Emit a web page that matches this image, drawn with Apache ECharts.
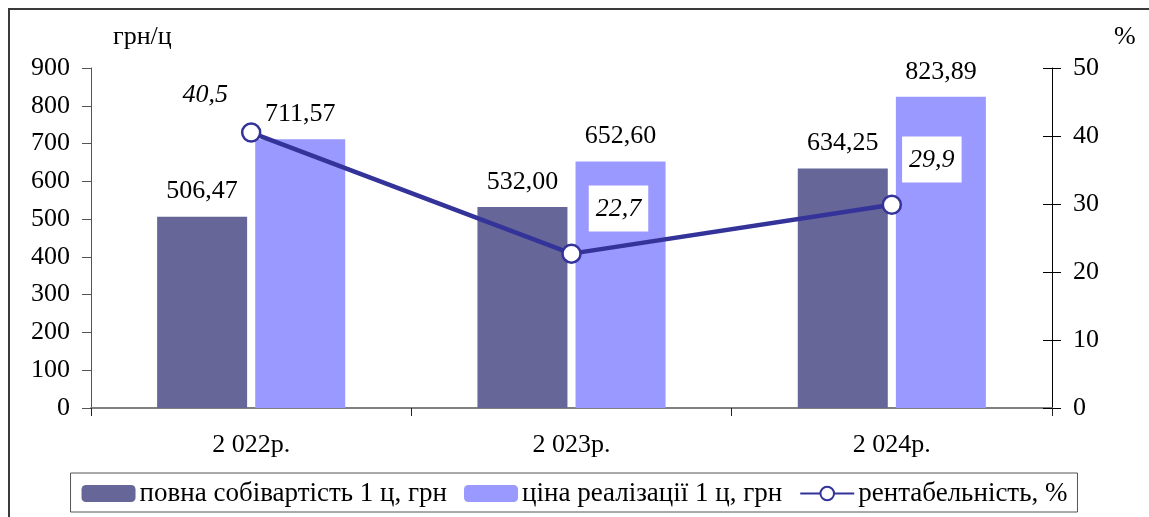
<!DOCTYPE html>
<html>
<head>
<meta charset="utf-8">
<script src="https://cdn.jsdelivr.net/npm/echarts@6/dist/echarts.min.js"></script>
<style>
html,body{margin:0;padding:0;background:#fff;}
#frame{position:absolute;left:8px;top:8px;width:1160px;height:530px;border:2px solid #3a3a3a;box-sizing:border-box;}
#c{position:absolute;left:0;top:0;width:1149px;height:517px;}
</style>
</head>
<body>
<div id="frame"></div>
<div id="c"></div>
<script>
const categories = ['2 022р.', '2 023р.', '2 024р.'];
const costValues = [506.47, 532.00, 634.25];
const priceValues = [711.57, 652.60, 823.89];
const profitValues = [40.5, 22.7, 29.9];
const leftTicks = [0, 900, 100];
const rightTicks = [0, 50, 10];
const seriesNames = ['повна собівартість 1 ц, грн', 'ціна реалізації 1 ц, грн', 'рентабельність, %'];

const FONT = '"Liberation Serif", "Times New Roman", serif';
const FS = 26;
const fmt2 = v => v.toFixed(2).replace('.', ',');
const fmt1 = v => v.toFixed(1).replace('.', ',');

const profitLabelCfg = [
  {offset: [-46, -2], bg: null},
  {offset: [47, 0], bg: '#fff'},
  {offset: [40, 0], bg: '#fff'}
];

const chart = echarts.init(document.getElementById('c'));
chart.setOption({
  animation: false,
  textStyle: {fontFamily: FONT},
  grid: {left: 91, right: 97, top: 68, bottom: 109},
  legend: {
    data: [seriesNames[0], seriesNames[1], seriesNames[2]],
    bottom: 5, left: 'center',
    borderColor: '#555', borderWidth: 1, padding: [7, 10, 5, 11],
    itemWidth: 54, itemHeight: 17, itemGap: 17,
    textStyle: {fontFamily: FONT, fontSize: 27, color: '#000', padding: [0, 0, 0, -1]}
  },
  xAxis: {
    type: 'category', data: categories,
    axisLine: {lineStyle: {color: '#808080', width: 2}},
    axisTick: {show: true, length: 8, lineStyle: {color: '#222'}},
    axisLabel: {fontFamily: FONT, fontSize: FS, color: '#000', margin: 24}
  },
  yAxis: [
    {
      type: 'value', min: leftTicks[0], max: leftTicks[1], interval: leftTicks[2],
      name: 'грн/ц', nameGap: 18, nameTextStyle: {fontFamily: FONT, fontSize: FS, color: '#000', align: 'left', padding: [0, 0, 0, 22]},
      axisLine: {show: true, lineStyle: {color: '#555'}},
      axisTick: {show: true, length: 9, lineStyle: {color: '#555'}},
      axisLabel: {fontFamily: FONT, fontSize: FS, color: '#000', margin: 21},
      splitLine: {show: false}
    },
    {
      type: 'value', min: rightTicks[0], max: rightTicks[1], interval: rightTicks[2], position: 'right',
      name: '%', nameGap: 18, nameTextStyle: {fontFamily: FONT, fontSize: FS, color: '#000', align: 'left', padding: [0, 0, 0, 62]},
      axisLine: {show: true, lineStyle: {color: '#000'}},
      axisTick: {show: true, length: 9, lineStyle: {color: '#000'}},
      axisLabel: {fontFamily: FONT, fontSize: FS, color: '#000', margin: 21},
      splitLine: {show: false}
    },
    {
      type: 'value', min: rightTicks[0], max: rightTicks[1], interval: rightTicks[2], position: 'right',
      axisLine: {show: false},
      axisTick: {show: true, inside: true, length: 9, lineStyle: {color: '#000'}},
      axisLabel: {show: false},
      splitLine: {show: false}
    }
  ],
  series: [
    {
      name: seriesNames[0], type: 'bar', data: costValues, barWidth: 90, barGap: '9%',
      itemStyle: {color: '#666699'},
      label: {show: true, position: 'top', distance: 12, fontFamily: FONT, fontSize: FS, color: '#000', formatter: p => fmt2(p.value)}
    },
    {
      name: seriesNames[1], type: 'bar', data: priceValues, barWidth: 90,
      itemStyle: {color: '#9999FF'},
      label: {show: true, position: 'top', distance: 12, fontFamily: FONT, fontSize: FS, color: '#000', formatter: p => fmt2(p.value)}
    },
    {
      name: seriesNames[2], type: 'line', yAxisIndex: 1, z: 5,
      data: profitValues.map((v, i) => ({
        value: v,
        label: {
          offset: profitLabelCfg[i].offset,
          backgroundColor: profitLabelCfg[i].bg || 'transparent',
          padding: profitLabelCfg[i].bg ? [11, 7, 9, 7] : 0
        }
      })),
      symbol: 'circle', symbolSize: 18,
      lineStyle: {color: '#333399', width: 4.5},
      itemStyle: {color: '#fff', borderColor: '#333399', borderWidth: 2.5},
      label: {show: true, position: 'top', distance: 12, fontFamily: FONT, fontSize: FS, fontStyle: 'italic', color: '#000', formatter: p => fmt1(p.value)}
    }
  ]
});
</script>
</body>
</html>
